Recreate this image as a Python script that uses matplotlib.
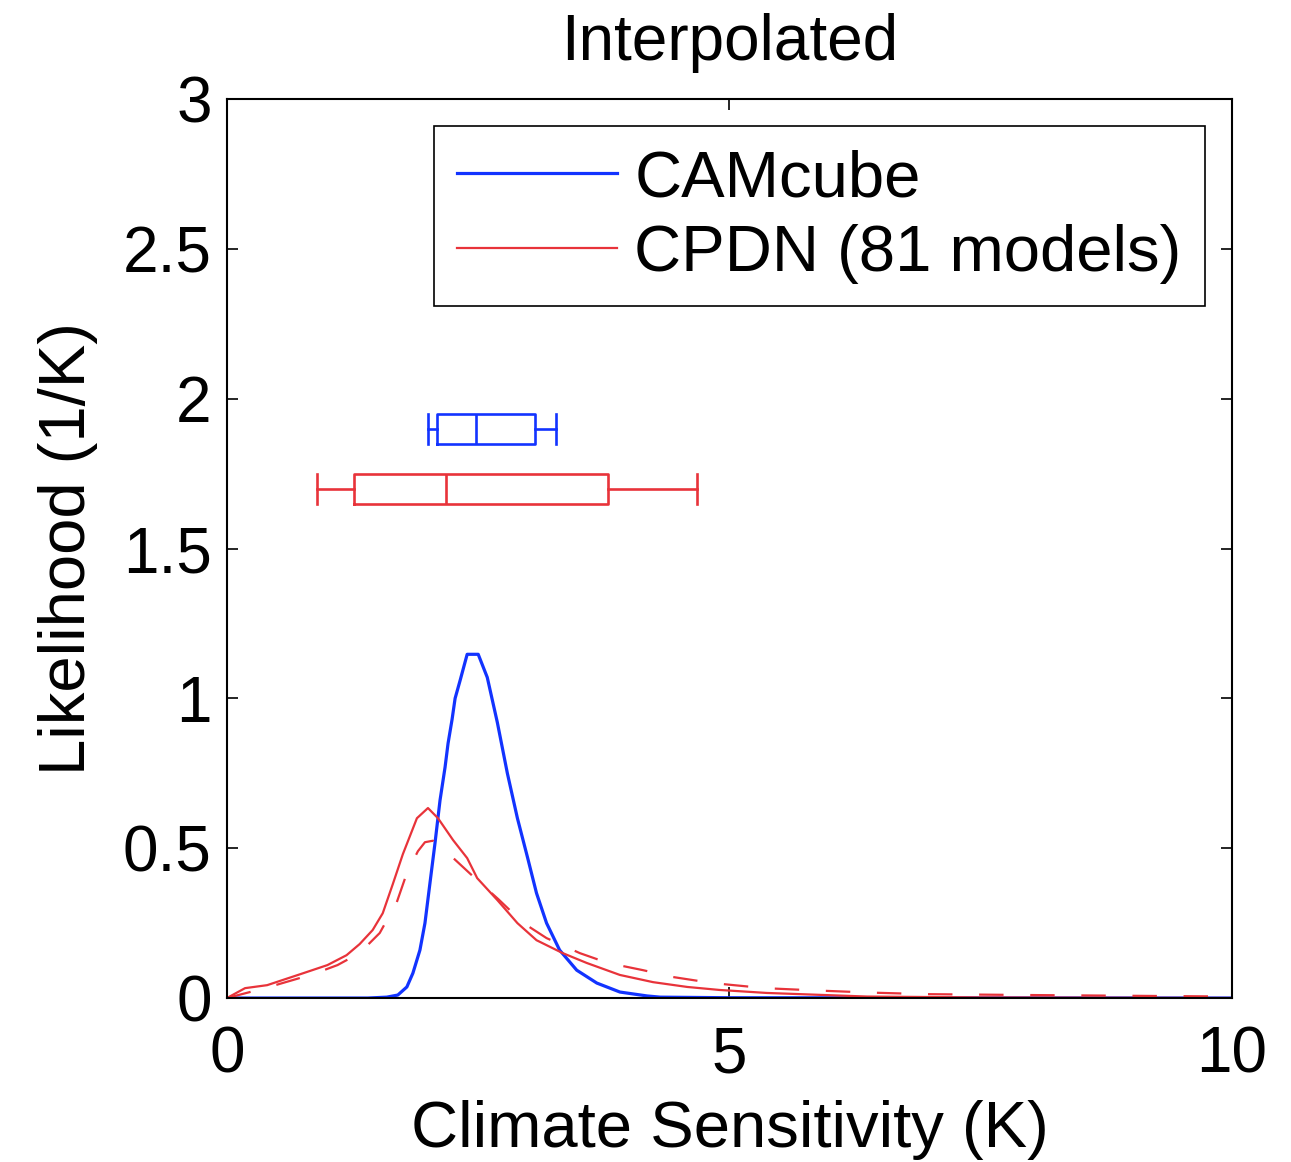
import matplotlib
matplotlib.use("Agg")
import matplotlib.pyplot as plt

plt.rcParams['font.family'] = ['Liberation Sans', 'DejaVu Sans']

# CAMcube likelihood
cam_x = [0, 1.4, 1.59, 1.70, 1.79, 1.85, 1.92, 1.97, 2.02, 2.07, 2.12, 2.17, 2.20, 2.24,
         2.27, 2.32, 2.39, 2.50, 2.59, 2.69, 2.79, 2.89, 2.99, 3.08, 3.18, 3.31, 3.48,
         3.68, 3.91, 4.18, 4.31, 5, 10]
cam_y = [0, 0, 0.003, 0.01, 0.037, 0.083, 0.16, 0.25, 0.384, 0.517, 0.66, 0.77, 0.85, 0.93,
         1.0, 1.06, 1.147, 1.147, 1.07, 0.92, 0.75, 0.60, 0.47, 0.35, 0.25, 0.16, 0.093,
         0.05, 0.02, 0.007, 0.003, 0.001, 0]

# CPDN (81 models), solid
cpdn_x = [0, 0.18, 0.40, 0.76, 1.0, 1.19, 1.32, 1.45, 1.55, 1.65, 1.75, 1.89, 2.0,
          2.10, 2.25, 2.39, 2.49, 2.69, 2.89, 3.08, 3.34, 3.58, 3.91, 4.24, 4.58,
          4.9, 5.37, 6.37, 7.5, 10]
cpdn_y = [0, 0.033, 0.043, 0.083, 0.11, 0.143, 0.18, 0.227, 0.283, 0.38, 0.48, 0.60, 0.634,
          0.60, 0.527, 0.467, 0.40, 0.327, 0.25, 0.193, 0.15, 0.117, 0.077, 0.053, 0.037,
          0.027, 0.017, 0.005, 0.002, 0]

# CPDN, dashed
cpdn2_x = [0, 0.4, 0.86, 1.1, 1.32, 1.52, 1.69, 1.79, 1.9, 1.97, 2.05, 2.22, 2.5, 2.7,
           2.95, 3.18, 3.51, 3.79, 4.14, 4.44, 4.83, 5.35, 5.88, 6.42, 6.95, 8, 10]
cpdn2_y = [0, 0.035, 0.08, 0.11, 0.15, 0.217, 0.32, 0.417, 0.49, 0.52, 0.525, 0.477, 0.39,
           0.33, 0.25, 0.2, 0.15, 0.117, 0.093, 0.07, 0.05, 0.033, 0.025, 0.018, 0.013,
           0.01, 0.005]

# box summaries: whislo, q1, med, q3, whishi
cam_box = [2.00, 2.09, 2.48, 3.06, 3.27]
cpdn_box = [0.90, 1.26, 2.18, 3.79, 4.68]
box_pos = [1.9, 1.7]

blue = '#1233ff'
red = '#e8333a'

fig = plt.figure(figsize=(12.91, 11.62), dpi=100)
ax = fig.add_axes([0.1758, 0.1411, 0.7785, 0.7737])

ax.plot(cam_x, cam_y, color=blue, lw=2.3, label='CAMcube')
ax.plot(cpdn_x, cpdn_y, color=red, lw=1.6, label='CPDN (81 models)')
ax.plot(cpdn2_x, cpdn2_y, color=red, lw=1.6, dashes=(11, 12), label='_nolegend_')

for vals, pos, col in [(cam_box, box_pos[0], blue), (cpdn_box, box_pos[1], red)]:
    st = dict(whislo=vals[0], q1=vals[1], med=vals[2], q3=vals[3], whishi=vals[4])
    props = dict(color=col, lw=1.9)
    ax.bxp([st], positions=[pos], widths=0.1, capwidths=0.1, orientation='horizontal',
           showfliers=False, manage_ticks=False,
           boxprops=props, whiskerprops=props, capprops=props, medianprops=props)

ax.set_xlim(0, 10)
ax.set_ylim(0, 3)
ax.set_xticks([0, 5, 10])
ax.set_xticklabels(['0', '5', '10'])
ax.set_yticks([0, 0.5, 1, 1.5, 2, 2.5, 3])
ax.set_yticklabels(['0', '0.5', '1', '1.5', '2', '2.5', '3'])
ax.tick_params(direction='in', top=True, right=True, length=8, width=1.2,
               labelsize=46)
ax.tick_params(axis='x', pad=20)
ax.tick_params(axis='y', pad=11)
for s in ax.spines.values():
    s.set_linewidth(1.5)

ax.set_xlabel('Climate Sensitivity (K)', fontsize=47, labelpad=10)
ax.set_ylabel('Likelihood (1/K)', fontsize=47, labelpad=18)
ax.set_title('Interpolated', fontsize=46, pad=28)

leg = ax.legend(loc='upper right', fontsize=47, fancybox=False, framealpha=1,
                edgecolor='black', handlelength=2.45, handletextpad=0.27,
                borderpad=0.35, labelspacing=0.22, borderaxespad=0.42)
leg.get_frame().set_linewidth(1.2)

fig.savefig('out.png', dpi=100)
